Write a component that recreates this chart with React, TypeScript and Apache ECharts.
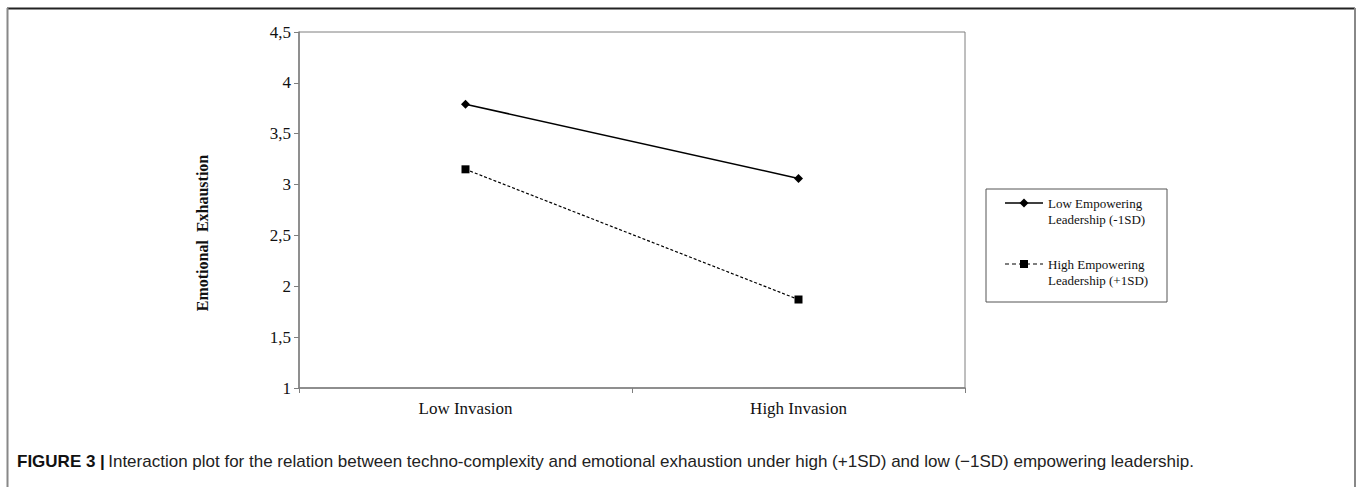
import React, { useEffect, useRef } from "react";
import * as echarts from "echarts";

const categories = ["Low Invasion", "High Invasion"];
const lowEmpowering = [3.79, 3.06];
const highEmpowering = [3.15, 1.87];
const seriesNames = ["Low Empowering\nLeadership (-1SD)", "High Empowering\nLeadership (+1SD)"];
const yAxisTitle = "Emotional  Exhaustion";
const yTicks = { min: 1, max: 4.5, interval: 0.5 };
const caption =
  "Interaction plot for the relation between techno-complexity and emotional exhaustion under high (+1SD) and low (\u22121SD) empowering leadership.";

export default function App() {
  const ref = useRef<HTMLDivElement>(null);
  useEffect(() => {
    document.body.style.margin = "0";
    const chart = echarts.init(ref.current!, null, { renderer: "svg" });
    const serif = "Liberation Serif";
    const axisGray = "#7f7f7f";
    chart.setOption({
      animation: false,
      backgroundColor: "#ffffff",
      grid: { left: 299, top: 32, width: 666, height: 356, show: true, borderColor: axisGray, borderWidth: 1 },
      xAxis: {
        type: "category",
        data: categories,
        boundaryGap: true,
        axisLine: { lineStyle: { color: axisGray, width: 1.5 } },
        axisTick: { show: true, length: 5, lineStyle: { color: axisGray } },
        axisLabel: { fontFamily: serif, fontSize: 17, color: "#111", margin: 12 },
        splitLine: { show: false },
      },
      yAxis: {
        type: "value",
        min: yTicks.min,
        max: yTicks.max,
        interval: yTicks.interval,
        axisLine: { show: true, lineStyle: { color: axisGray, width: 1.5 } },
        axisTick: { show: true, length: 5, lineStyle: { color: axisGray } },
        axisLabel: {
          fontFamily: serif,
          fontSize: 17,
          color: "#111",
          margin: 8,
          formatter: (v: number) => String(v).replace(".", ","),
        },
        splitLine: { show: false },
      },
      legend: { show: false },
      series: [
        {
          name: seriesNames[0],
          type: "line",
          data: lowEmpowering,
          symbol: "diamond",
          symbolSize: 9,
          itemStyle: { color: "#000" },
          lineStyle: { color: "#000", width: 1.5, type: "solid" },
        },
        {
          name: seriesNames[1],
          type: "line",
          data: highEmpowering,
          symbol: "rect",
          symbolSize: 8,
          itemStyle: { color: "#000" },
          lineStyle: { color: "#000", width: 1.2, type: [3, 2] },
        },
      ],
      graphic: [
        // outer frame
        { type: "line", shape: { x1: 7, y1: 8.5, x2: 1355, y2: 8.5 }, style: { stroke: "#222", lineWidth: 2 } },
        { type: "line", shape: { x1: 7.5, y1: 8, x2: 7.5, y2: 487 }, style: { stroke: "#888", lineWidth: 2 } },
        { type: "line", shape: { x1: 1355, y1: 8, x2: 1355, y2: 487 }, style: { stroke: "#888", lineWidth: 2 } },
        // y-axis title
        {
          type: "text",
          x: 202,
          y: 233,
          rotation: Math.PI / 2,
          style: {
            text: yAxisTitle,
            font: `bold 16px '${serif}'`,
            fill: "#111",
            align: "center",
            verticalAlign: "middle",
          },
        },
        // legend box
        { type: "rect", shape: { x: 986, y: 189, width: 181, height: 113 }, style: { fill: "#fff", stroke: "#555", lineWidth: 1 } },
        { type: "line", shape: { x1: 1005, y1: 203, x2: 1043, y2: 203 }, style: { stroke: "#000", lineWidth: 1.5 } },
        { type: "polygon", shape: { points: [[1024, 198.5], [1028.5, 203], [1024, 207.5], [1019.5, 203]] }, style: { fill: "#000" } },
        {
          type: "text",
          left: 1048,
          top: 195,
          style: { text: seriesNames[0], font: `13px '${serif}'`, fill: "#111", lineHeight: 16 },
        },
        { type: "line", shape: { x1: 1005, y1: 264, x2: 1043, y2: 264 }, style: { stroke: "#000", lineWidth: 1.2, lineDash: [4, 3] } },
        { type: "rect", shape: { x: 1020, y: 260, width: 8, height: 8 }, style: { fill: "#000" } },
        {
          type: "text",
          left: 1048,
          top: 256,
          style: { text: seriesNames[1], font: `13px '${serif}'`, fill: "#111", lineHeight: 16 },
        },
        // caption
        {
          type: "text",
          left: 17,
          top: 453,
          style: {
            rich: {
              b: { fontFamily: "Liberation Sans", fontWeight: "bold", fontSize: 17, fill: "#111", color: "#111" },
              n: { fontFamily: "Liberation Sans", fontSize: 17, fill: "#222", color: "#222" },
            },
            text: `{b|FIGURE 3 |} {n|${caption}}`,
          },
        },
      ],
    });
    return () => chart.dispose();
  }, []);
  return <div ref={ref} style={{ width: 1358, height: 487 }} />;
}
